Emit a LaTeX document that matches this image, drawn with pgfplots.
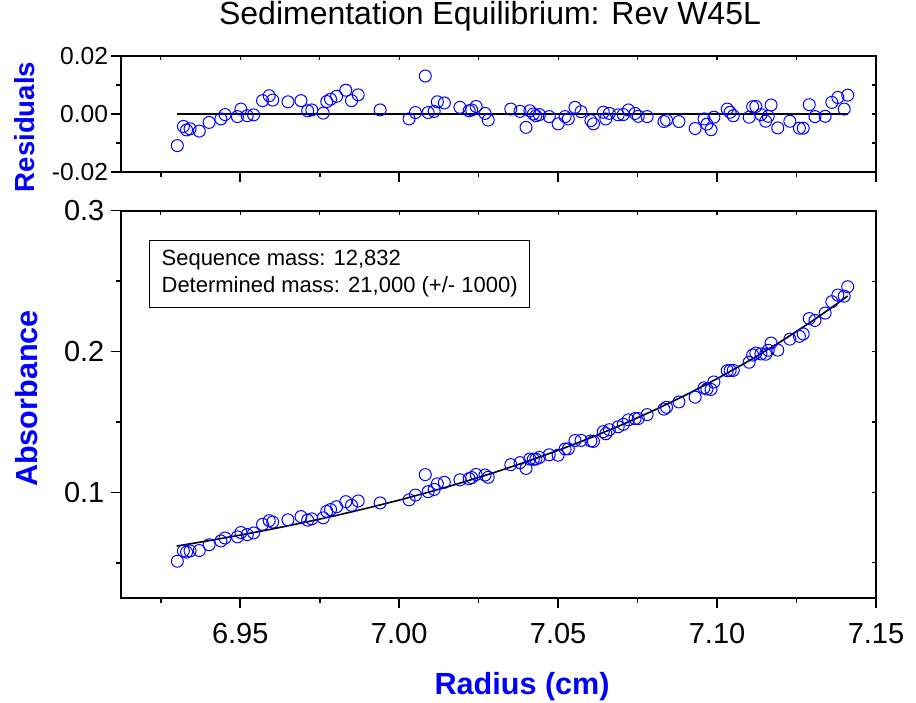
\documentclass[border=0pt]{standalone}
\usepackage{pgfplots}
\usepackage{pgfplotstable}
\pgfplotsset{compat=1.18}
\usepackage{fontspec}
\setmainfont{Liberation Sans}
\definecolor{ptblue}{RGB}{0,0,255}

\pgfplotstableread{
r res A
6.9302 -0.0109 0.0511
6.9321 -0.0043 0.0584
6.9331 -0.0055 0.0576
6.9342 -0.0051 0.0584
6.9371 -0.0059 0.0587
6.9402 -0.0029 0.0628
6.9439 -0.0017 0.0655
6.9452 -0.0002 0.0676
6.9491 -0.0009 0.0684
6.9502 0.0017 0.0715
6.9522 -0.0006 0.0700
6.9542 -0.0003 0.0712
6.9570 0.0046 0.0773
6.9591 0.0063 0.0799
6.9602 0.0048 0.0789
6.9650 0.0042 0.0805
6.9691 0.0046 0.0828
6.9712 0.0011 0.0803
6.9725 0.0014 0.0812
6.9761 0.0003 0.0819
6.9772 0.0043 0.0865
6.9784 0.0051 0.0878
6.9803 0.0061 0.0898
6.9832 0.0082 0.0934
6.9850 0.0046 0.0908
6.9871 0.0066 0.0939
6.9940 0.0014 0.0925
7.0031 -0.0017 0.0947
7.0051 0.0005 0.0981
7.0082 0.0131 0.1126
7.0091 0.0005 0.1005
7.0110 0.0009 0.1021
7.0120 0.0042 0.1061
7.0142 0.0038 0.1071
7.0191 0.0023 0.1089
7.0220 0.0011 0.1097
7.0228 0.0014 0.1105
7.0242 0.0026 0.1127
7.0270 0.0002 0.1123
7.0280 -0.0021 0.1107
7.0351 0.0017 0.1197
7.0380 0.0009 0.1211
7.0399 -0.0046 0.1170
7.0411 0.0011 0.1237
7.0422 0.0000 0.1235
7.0430 -0.0006 0.1236
7.0441 -0.0002 0.1248
7.0472 -0.0009 0.1267
7.0500 -0.0034 0.1264
7.0522 -0.0009 0.1308
7.0532 -0.0017 0.1309
7.0553 0.0023 0.1368
7.0572 0.0008 0.1369
7.0603 -0.0023 0.1365
7.0611 -0.0034 0.1362
7.0642 0.0006 0.1431
7.0650 -0.0017 0.1416
7.0661 0.0002 0.1445
7.0689 -0.0003 0.1466
7.0705 -0.0002 0.1483
7.0721 0.0014 0.1515
7.0742 0.0002 0.1524
7.0752 -0.0008 0.1524
7.0780 -0.0009 0.1552
7.0833 -0.0026 0.1591
7.0841 -0.0021 0.1604
7.0880 -0.0026 0.1642
7.0931 -0.0050 0.1676
7.0959 -0.0017 0.1742
7.0968 -0.0035 0.1734
7.0981 -0.0054 0.1731
7.0990 -0.0011 0.1784
7.1032 0.0017 0.1864
7.1041 0.0006 0.1865
7.1051 -0.0006 0.1866
7.1101 -0.0011 0.1924
7.1112 0.0025 0.1975
7.1122 0.0026 0.1989
7.1138 -0.0002 0.1983
7.1153 -0.0025 0.1981
7.1161 -0.0008 0.2009
7.1170 0.0031 0.2060
7.1191 -0.0048 0.2010
7.1229 -0.0025 0.2088
7.1259 -0.0049 0.2108
7.1271 -0.0049 0.2125
7.1290 0.0032 0.2234
7.1308 -0.0009 0.2221
7.1340 -0.0008 0.2273
7.1361 0.0040 0.2354
7.1380 0.0057 0.2401
7.1400 0.0017 0.2393
7.1411 0.0065 0.2460
}\datatable

\pgfplotstableread{
r fit
6.9300 0.06190
6.9400 0.06566
6.9500 0.06968
6.9600 0.07398
6.9700 0.07858
6.9800 0.08352
6.9900 0.08882
7.0000 0.09450
7.0100 0.10059
7.0200 0.10714
7.0300 0.11417
7.0400 0.12172
7.0500 0.12982
7.0600 0.13856
7.0700 0.14795
7.0800 0.15807
7.0900 0.16896
7.1000 0.18069
7.1100 0.19334
7.1200 0.20698
7.1300 0.22170
7.1400 0.23759
7.1411 0.23948
}\fittable

\pgfplotsset{
  common/.style={
    scale only axis,
    width=377.3pt,
    xmin=6.9126, xmax=7.15,
    xtick={6.95,7.00,7.05,7.10,7.15},
    minor xtick={6.925,6.975,7.025,7.075,7.125},
    tick align=outside,
    xtick pos=left, ytick pos=left,
    major tick length=5pt, minor tick length=2.5pt,
    every tick/.style={black, line width=0.8pt},
    axis line style={line width=1pt},
    /pgf/number format/assume math mode=true,
    scaled ticks=false,
    clip=false,
  },
  mirror/.style={
    scale only axis,
    width=377.3pt,
    xmin=6.9126, xmax=7.15,
    xtick={6.95,7.00,7.05,7.10,7.15},
    minor xtick={6.925,6.975,7.025,7.075,7.125},
    tick align=inside,
    xtick pos=right, ytick pos=right,
    major tick length=2pt, minor tick length=2pt,
    every tick/.style={black, line width=0.6pt},
    axis line style={draw=none},
    xticklabels={}, yticklabels={},
    scaled ticks=false,
  },
  datmark/.style={only marks, mark=o, mark size=3pt, ptblue, mark options={line width=0.5pt}},
}

\begin{document}
\begin{tikzpicture}[x=1pt,y=1pt]
\useasboundingbox (0,0) rectangle (458,351);

\begin{axis}[
  common,
  height=58pt,
  at={(60.7pt,265pt)}, anchor=south west,
  ymin=-0.02, ymax=0.02,
  ytick={-0.02,0,0.02}, minor ytick={-0.01,0.01},
  xticklabels={},
  yticklabel style={font=\fontsize{12.3}{14}\selectfont, inner xsep=1.5pt,
    /pgf/number format/fixed, /pgf/number format/fixed zerofill,
    /pgf/number format/precision=2},
  title={Sedimentation Equilibrium: Rev W45L},
  title style={at={(axis description cs:0.4885,1.172)}, anchor=base, inner sep=0pt,
    font=\fontsize{16}{19}\selectfont},
  ylabel={Residuals},
  ylabel style={at={(axis description cs:-0.1284,0.388)}, anchor=center,
    font=\bfseries\fontsize{13.8}{16}\selectfont, text=ptblue},
]
\addplot[black, line width=0.8pt] coordinates {(6.9300,0) (7.1411,0)};
\addplot[datmark] table[x=r, y=res] {\datatable};
\end{axis}

\begin{axis}[
  mirror,
  height=58pt,
  at={(60.7pt,265pt)}, anchor=south west,
  ymin=-0.02, ymax=0.02,
  ytick={-0.02,0,0.02}, minor ytick={-0.01,0.01},
]
\end{axis}

\begin{axis}[
  common,
  height=193.65pt,
  at={(60.7pt,52pt)}, anchor=south west,
  ymin=0.025, ymax=0.3,
  ytick={0.1,0.2,0.3}, minor ytick={0.05,0.15,0.25},
  xticklabel style={font=\fontsize{14.5}{17}\selectfont, yshift=-4pt,
    /pgf/number format/fixed, /pgf/number format/fixed zerofill,
    /pgf/number format/precision=2},
  yticklabel style={font=\fontsize{14.5}{17}\selectfont,
    /pgf/number format/fixed, /pgf/number format/fixed zerofill,
    /pgf/number format/precision=1},
  xlabel={Radius (cm)},
  xlabel style={at={(axis description cs:0.531,-0.23)}, anchor=center,
    font=\bfseries\fontsize{15.3}{18}\selectfont, text=ptblue},
  ylabel={Absorbance},
  ylabel style={at={(axis description cs:-0.1251,0.515)}, anchor=center,
    font=\bfseries\fontsize{15.3}{18}\selectfont, text=ptblue},
]
\addplot[black, line width=0.8pt] table[x=r, y=fit] {\fittable};
\addplot[datmark] table[x=r, y=A] {\datatable};
\node[draw, line width=0.6pt, anchor=north west, align=left, inner xsep=6pt, inner ysep=5pt,
  font=\fontsize{11}{13.5}\selectfont, fill=white]
  at (rel axis cs:0.0366,0.9243) {Sequence mass: 12,832\\Determined mass: 21,000 (+/- 1000)};
\end{axis}

\begin{axis}[
  mirror,
  height=193.65pt,
  at={(60.7pt,52pt)}, anchor=south west,
  ymin=0.025, ymax=0.3,
  ytick={0.1,0.2,0.3}, minor ytick={0.05,0.15,0.25},
]
\end{axis}
\end{tikzpicture}
\end{document}
